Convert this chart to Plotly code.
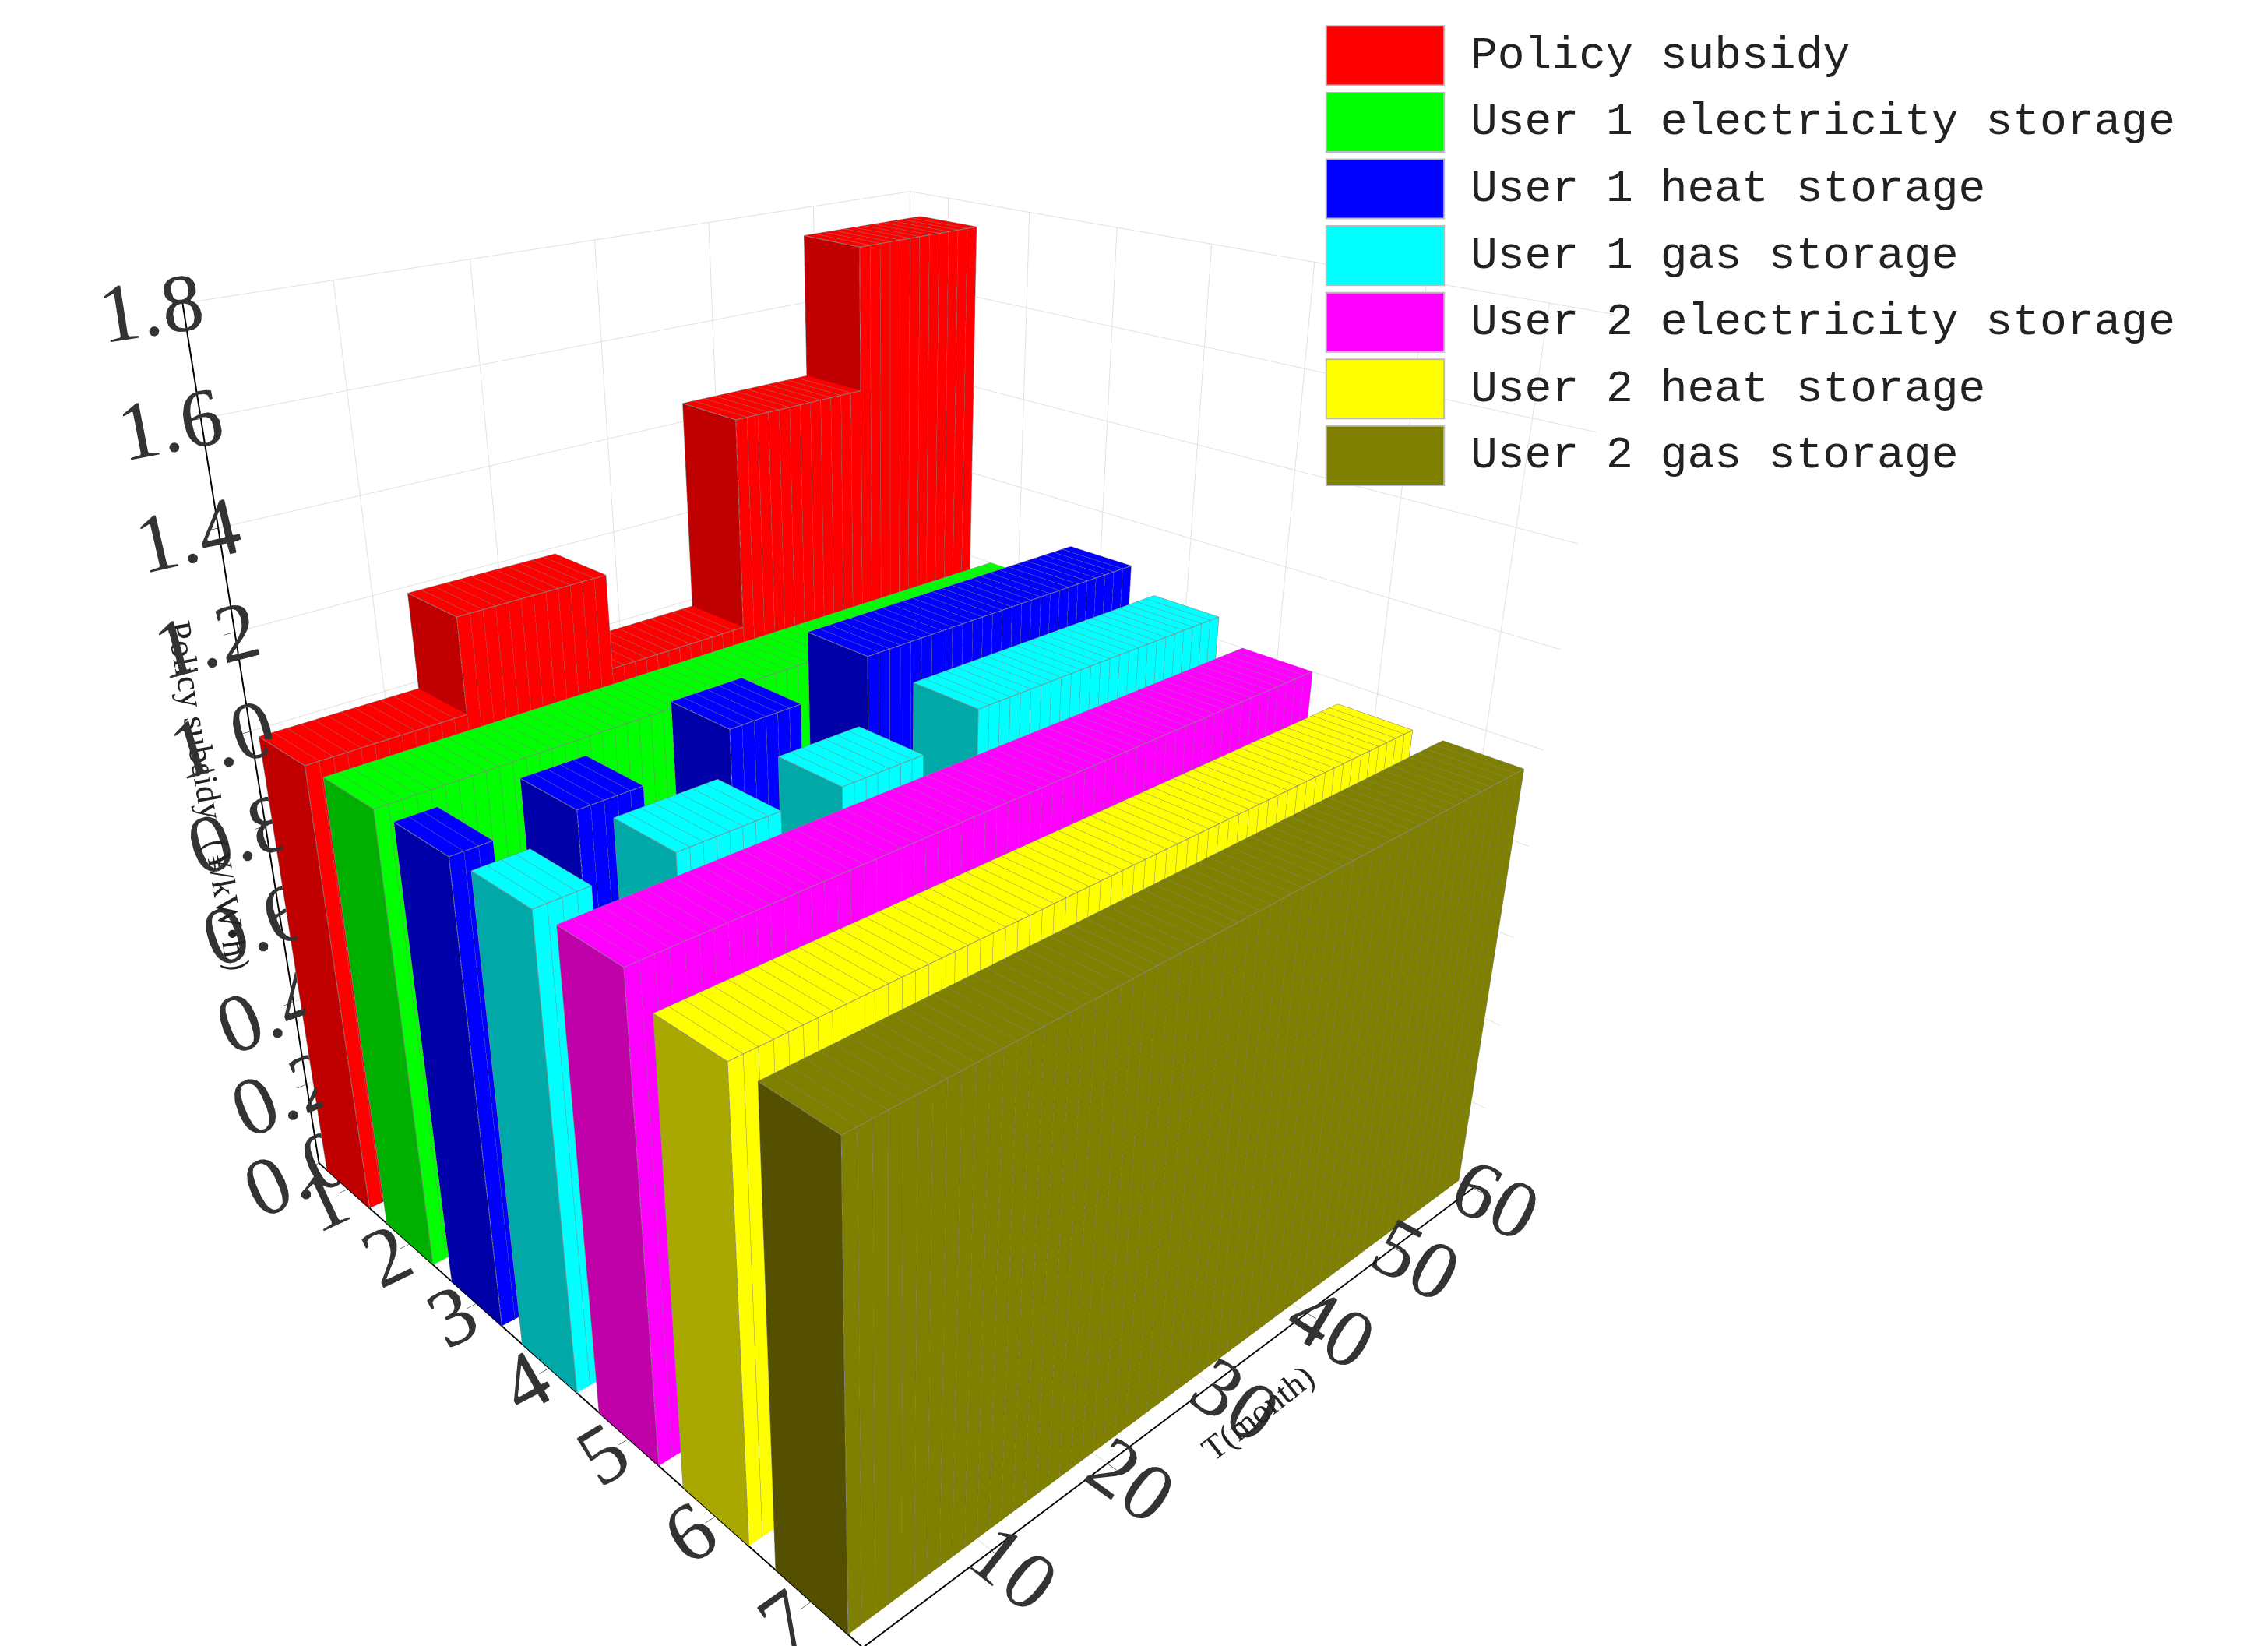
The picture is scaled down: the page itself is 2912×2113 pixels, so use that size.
import plotly.graph_objects as go

series_names = ["Policy subsidy", "User 1 electricity storage", "User 1 heat storage",
                "User 1 gas storage", "User 2 electricity storage", "User 2 heat storage",
                "User 2 gas storage"]
colors = ["#ff0000", "#00ff00", "#0000ff", "#00ffff", "#ff00ff", "#ffff00", "#808000"]
dark_colors = ["#c00000", "#00b000", "#0000a8", "#00a8a8", "#c000a8", "#a8a800", "#555000"]
months = list(range(1, 61))

policy = [1.0]*12 + [1.2]*12 + [1.0]*12 + [1.45]*12 + [1.75]*12
u1_elec = [1.0]*60
u1_heat = [1.0]*3 + [0]*6 + [1.0]*5 + [0]*7 + [1.05]*6 + [0]*6 + [1.1]*27
u1_gas = [1.0]*4 + [0]*6 + [1.0]*8 + [0]*5 + [1.0]*7 + [0]*5 + [1.05]*25
u2_elec = [1.0]*60
u2_heat = [0.95]*60
u2_gas = [0.95]*60
values = [policy, u1_elec, u1_heat, u1_gas, u2_elec, u2_heat, u2_gas]

fig = go.Figure()
hw = 0.36
X, Y, Z, I, J, K, FC = [], [], [], [], [], [], []
ex, ey, ez = [], [], []
for r, (vals, c, dc) in enumerate(zip(values, colors, dark_colors)):
    row = r + 1
    for m, v in zip(months, vals):
        if v <= 0:
            continue
        x0, x1 = row - hw, row + hw
        y0, y1 = m - 1, m
        b = len(X)
        for (xx, yy, zz) in [(x0, y0, 0), (x1, y0, 0), (x1, y1, 0), (x0, y1, 0),
                             (x0, y0, v), (x1, y0, v), (x1, y1, v), (x0, y1, v)]:
            X.append(xx); Y.append(yy); Z.append(zz)
        faces = [((4, 5, 6), c), ((4, 6, 7), c),
                 ((0, 1, 5), dc), ((0, 5, 4), dc),
                 ((1, 2, 6), c), ((1, 6, 5), c)]
        for (a, bb, cc), col in faces:
            I.append(b + a); J.append(b + bb); K.append(b + cc); FC.append(col)
        # top outline + visible vertical edges
        pts = [(4, 5), (5, 6), (6, 7), (7, 4), (1, 5), (2, 6), (0, 4)]
        for a, bb in pts:
            ex += [X[b + a], X[b + bb], None]
            ey += [Y[b + a], Y[b + bb], None]
            ez += [Z[b + a], Z[b + bb], None]

fig.add_trace(go.Mesh3d(x=X, y=Y, z=Z, i=I, j=J, k=K, facecolor=FC, flatshading=True,
                        lighting=dict(ambient=1, diffuse=0, specular=0, fresnel=0),
                        showlegend=False, hoverinfo="skip"))
fig.add_trace(go.Scatter3d(x=ex, y=ey, z=ez, mode="lines", line=dict(color="#888888", width=2),
                           showlegend=False, hoverinfo="skip"))
for name, c in zip(series_names, colors):
    fig.add_trace(go.Scatter3d(x=[1], y=[0], z=[0], mode="markers", name=name, visible=True,
                               marker=dict(symbol="square", size=0.1, opacity=0, color=c),
                               showlegend=False, hoverinfo="skip"))

# legend drawn as layout shapes + annotations (paper coords)
shapes, annots = [], []
for k, (name, c) in enumerate(zip(series_names, colors)):
    ytop = 0.988 - k * 0.0405
    shapes.append(dict(type="rect", xref="paper", yref="paper", x0=0.582, x1=0.634,
                       y0=ytop - 0.036, y1=ytop, fillcolor=c, line=dict(color="#bbbbbb", width=2)))
    annots.append(dict(xref="paper", yref="paper", x=0.645, y=ytop - 0.018, xanchor="left",
                       yanchor="middle", text=name, showarrow=False,
                       font=dict(family="Liberation Mono", size=58, color="#222")))

axis_common = dict(showbackground=False, gridcolor="#e0e0e0", showline=True, linecolor="black",
                   linewidth=4, ticks="outside", tickcolor="black", ticklen=12,
                   tickfont=dict(family="Liberation Serif", size=36, color="#333"),
                   zeroline=False)
fig.update_layout(
    width=2912, height=2113, paper_bgcolor="white",
    margin=dict(l=0, r=0, t=0, b=0), shapes=shapes, annotations=annots,
    font=dict(family="Liberation Mono", size=40, color="#222"),
    scene=dict(
        domain=dict(x=[0, 0.78], y=[0, 1]),
        xaxis=dict(axis_common, range=[0.5, 7.5], tickvals=[1, 2, 3, 4, 5, 6, 7], title=dict(text="")),
        yaxis=dict(axis_common, range=[0, 60], tickvals=[10, 20, 30, 40, 50, 60],
                   title=dict(text="T(month)", font=dict(family="Liberation Serif", size=44))),
        zaxis=dict(axis_common, range=[0, 1.8], tickvals=[0, 0.2, 0.4, 0.6, 0.8, 1.0, 1.2, 1.4, 1.6, 1.8],
                   tickformat=".1f",
                   title=dict(text="Policy subsidy（¥/kW•h）", font=dict(family="Liberation Serif", size=44))),
        aspectmode="manual", aspectratio=dict(x=1, y=1, z=1.05),
        camera=dict(eye=dict(x=1.45, y=-1.35, z=0.95), center=dict(x=0, y=0, z=-0.05),
                    projection=dict(type="perspective")),
    ),
)
fig.write_html("out.html")
